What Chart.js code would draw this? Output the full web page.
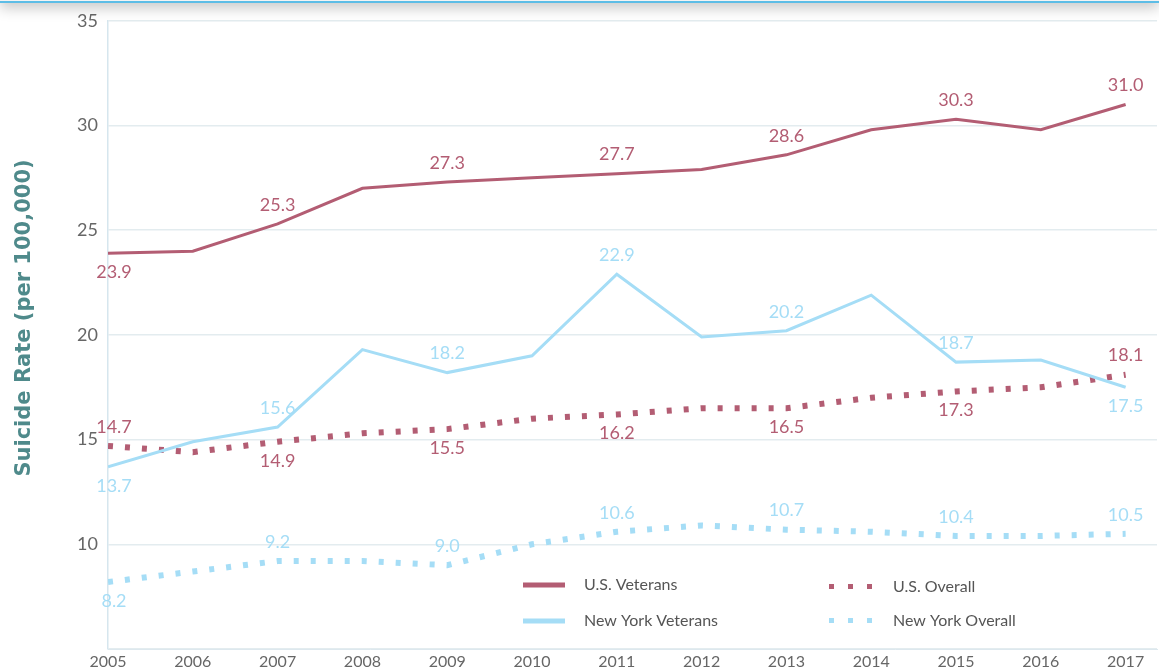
<!DOCTYPE html>
<html>
<head>
<meta charset="utf-8">
<script src="https://cdn.jsdelivr.net/npm/chart.js@4"></script>
<style>
  html, body { margin: 0; padding: 0; background: #fff; }
  #wrap { position: relative; width: 1159px; height: 671px; overflow: hidden; }
  #topbar { position: absolute; left: 0; top: -20px; width: 1159px; height: 21px; background: #f4f4f4;
            border-bottom: 2px solid #5dbde6; box-shadow: 0 5px 14px rgba(0,0,0,0.22); }
</style>
</head>
<body>
<div id="wrap">
  <canvas id="grafico" width="1159" height="671"></canvas>
  <div id="topbar"></div>
</div>
<script>
const anos = [2005, 2006, 2007, 2008, 2009, 2010, 2011, 2012, 2013, 2014, 2015, 2016, 2017];
const usVeterans = [23.9, 24.0, 25.3, 27.0, 27.3, 27.5, 27.7, 27.9, 28.6, 29.8, 30.3, 29.8, 31.0];
const usOverall = [14.7, 14.4, 14.9, 15.3, 15.5, 16.0, 16.2, 16.5, 16.5, 17.0, 17.3, 17.5, 18.1];
const nyVeterans = [13.7, 14.9, 15.6, 19.3, 18.2, 19.0, 22.9, 19.9, 20.2, 21.9, 18.7, 18.8, 17.5];
const nyOverall = [8.2, 8.7, 9.2, 9.2, 9.0, 10.0, 10.6, 10.9, 10.7, 10.6, 10.4, 10.4, 10.5];
const yTicks = [5, 10, 15, 20, 25, 30, 35];
const tituloY = 'Suicide Rate (per 100,000)';

const maroon = '#b35d73';
const azul = '#a5ddf6';
const fonte = 'Lato, "Open Sans", sans-serif';

function pontos(vals) {
    return vals.map((v, i) => ({ x: anos[i], y: v }));
}

// rotulos nos anos impares: 'a' = acima, 'b' = abaixo
const rotulosPlugin = {
    id: 'rotulos',
    afterDatasetsDraw(chart) {
        const ctx = chart.ctx;
        ctx.save();
        ctx.font = '18px ' + fonte;
        ctx.textAlign = 'center';
        ctx.textBaseline = 'middle';
        chart.data.datasets.forEach((ds, di) => {
            const meta = chart.getDatasetMeta(di);
            ds.posRotulos.forEach((pos, i) => {
                if (!pos) return;
                const p = meta.data[i];
                ctx.fillStyle = ds.borderColor;
                const dy = pos === 'a' ? -19 : 19;
                let x = p.x;
                if (i === 0) x += 6;
                ctx.fillText(ds.data[i].y.toFixed(1), x, p.y + dy);
            });
        });
        ctx.restore();
    }
};

// titulo do eixo y, desenhado a mao para ficar na mesma altura do original
const tituloPlugin = {
    id: 'tituloY',
    afterDraw(chart) {
        const ctx = chart.ctx;
        ctx.save();
        ctx.translate(25, 318);
        ctx.rotate(-Math.PI / 2);
        ctx.font = 'bold 21px "DejaVu Sans", sans-serif';
        ctx.fillStyle = '#4f8a8b';
        ctx.textAlign = 'center';
        ctx.textBaseline = 'middle';
        ctx.fillText(tituloY, 0, 0);
        ctx.restore();
    }
};

const legendaPlugin = {
    id: 'legendaInterna',
    afterDraw(chart) {
        const ctx = chart.ctx;
        const itens = [
            { ds: 0, x: 523, y: 585 },
            { ds: 2, x: 829, y: 587 },
            { ds: 1, x: 523, y: 621 },
            { ds: 3, x: 829, y: 621 }
        ];
        ctx.save();
        ctx.font = '16px ' + fonte;
        ctx.textBaseline = 'middle';
        itens.forEach(it => {
            const ds = chart.data.datasets[it.ds];
            ctx.fillStyle = ds.borderColor;
            if (ds.borderDash) {
                for (let k = 0; k < 3; k++) ctx.fillRect(it.x + k * 19, it.y - 3, 5, 5);
                ctx.fillStyle = '#555';
                ctx.fillText(ds.label, it.x + 64, it.y);
            } else {
                ctx.fillRect(it.x, it.y - 2.5, 42, 5);
                ctx.fillStyle = '#555';
                ctx.fillText(ds.label, it.x + 61, it.y);
            }
        });
        ctx.restore();
    }
};

const ctx = document.getElementById('grafico').getContext('2d');
const grafico = new Chart(ctx, {
    type: 'line',
    data: {
        datasets: [
            {
                label: 'U.S. Veterans',
                data: pontos(usVeterans),
                borderColor: maroon,
                borderWidth: 3,
                pointRadius: 0,
                posRotulos: ['b', null, 'a', null, 'a', null, 'a', null, 'a', null, 'a', null, 'a']
            },
            {
                label: 'New York Veterans',
                data: pontos(nyVeterans),
                borderColor: azul,
                borderWidth: 3,
                pointRadius: 0,
                posRotulos: ['b', null, 'a', null, 'a', null, 'a', null, 'a', null, 'a', null, 'b']
            },
            {
                label: 'U.S. Overall',
                data: pontos(usOverall),
                borderColor: maroon,
                borderWidth: 6,
                borderDash: [5, 12],
                borderCapStyle: 'butt',
                pointRadius: 0,
                posRotulos: ['a', null, 'b', null, 'b', null, 'b', null, 'b', null, 'b', null, 'a']
            },
            {
                label: 'New York Overall',
                data: pontos(nyOverall),
                borderColor: azul,
                borderWidth: 6,
                borderDash: [5, 12],
                borderCapStyle: 'butt',
                pointRadius: 0,
                posRotulos: ['b', null, 'a', null, 'a', null, 'a', null, 'a', null, 'a', null, 'a']
            }
        ]
    },
    options: {
        responsive: false,
        animation: false,
        layout: { padding: { top: 19, right: 2, left: 0, bottom: 0 } },
        plugins: {
            legend: { display: false },
            tooltip: { enabled: false }
        },
        scales: {
            x: {
                type: 'linear',
                min: 2005,
                max: 2017.37,
                afterBuildTicks(scale) {
                    scale.ticks = anos.map(a => ({ value: a }));
                },
                afterFit(scale) { scale.height = 22; },
                grid: { display: false, drawTicks: false },
                border: { color: '#dde8ee', width: 1 },
                ticks: {
                    padding: 3,
                    color: '#666',
                    font: { family: fonte, size: 16 },
                    callback: v => String(v),
                    maxRotation: 0
                }
            },
            y: {
                min: 5,
                max: 35,
                afterBuildTicks(scale) {
                    scale.ticks = yTicks.map(v => ({ value: v }));
                },
                afterFit(scale) { scale.width = 108; },
                grid: { color: '#e3ecef', lineWidth: 1.5, drawTicks: false },
                border: { color: '#d6e6ee', width: 1.5 },
                ticks: {
                    padding: 10,
                    color: '#666',
                    font: { family: fonte, size: 18 },
                    callback: v => (v === 5 ? '' : v)
                }
            }
        }
    },
    plugins: [rotulosPlugin, tituloPlugin, legendaPlugin]
});
</script>
</body>
</html>
